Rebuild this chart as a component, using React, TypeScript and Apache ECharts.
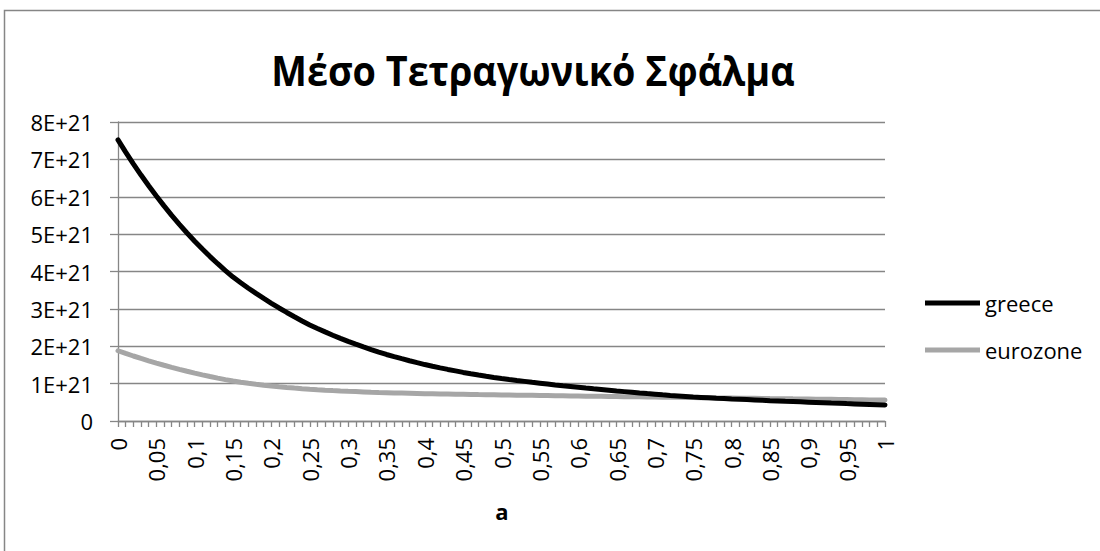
import React, { useEffect, useRef } from "react";
import * as echarts from "echarts";

// x values a = 0, 0.01, ..., 1 (exact category sequence)
const A_VALUES: number[] = Array.from({ length: 101 }, (_, i) => i / 100);

// Mean squared error, in units of 1E+21
const GREECE_E21: number[] = [
  7.52, 7.193, 6.88, 6.58, 6.294, 6.02, 5.756, 5.503, 5.262, 5.031,
  4.81, 4.6, 4.4, 4.208, 4.025, 3.85, 3.699, 3.553, 3.413, 3.279,
  3.15, 3.024, 2.904, 2.788, 2.677, 2.57, 2.475, 2.384, 2.296, 2.211,
  2.13, 2.055, 1.982, 1.912, 1.845, 1.78, 1.722, 1.667, 1.613, 1.561,
  1.51, 1.465, 1.422, 1.38, 1.34, 1.3, 1.265, 1.231, 1.198, 1.166,
  1.135, 1.109, 1.084, 1.06, 1.035, 1.012, 0.989, 0.966, 0.944, 0.923,
  0.902, 0.881, 0.861, 0.842, 0.823, 0.804, 0.786, 0.768, 0.75, 0.733,
  0.717, 0.7, 0.684, 0.669, 0.654, 0.639, 0.629, 0.619, 0.609, 0.6,
  0.59, 0.581, 0.572, 0.563, 0.554, 0.545, 0.537, 0.528, 0.52, 0.512,
  0.504, 0.496, 0.488, 0.48, 0.473, 0.465, 0.458, 0.451, 0.444, 0.437,
  0.43,
];

const EUROZONE_E21: number[] = [
  1.88, 1.808, 1.739, 1.673, 1.61, 1.55, 1.492, 1.436, 1.382, 1.33,
  1.28, 1.233, 1.189, 1.147, 1.107, 1.07, 1.038, 1.009, 0.982, 0.957,
  0.935, 0.915, 0.897, 0.88, 0.864, 0.85, 0.837, 0.825, 0.814, 0.804,
  0.795, 0.787, 0.779, 0.771, 0.764, 0.758, 0.752, 0.747, 0.742, 0.737,
  0.732, 0.728, 0.724, 0.72, 0.716, 0.713, 0.71, 0.706, 0.703, 0.7,
  0.697, 0.694, 0.691, 0.689, 0.686, 0.683, 0.68, 0.677, 0.674, 0.671,
  0.668, 0.665, 0.663, 0.66, 0.657, 0.655, 0.652, 0.649, 0.646, 0.644,
  0.641, 0.638, 0.636, 0.633, 0.63, 0.627, 0.625, 0.622, 0.619, 0.617,
  0.614, 0.611, 0.609, 0.606, 0.603, 0.6, 0.598, 0.595, 0.592, 0.59,
  0.587, 0.584, 0.582, 0.579, 0.576, 0.574, 0.571, 0.568, 0.565, 0.563,
  0.56,
];

const SERIES_NAMES = ["greece", "eurozone"];
const TITLE = "Μέσο Τετραγωνικό Σφάλμα";
const X_TITLE = "a";
const Y_MAX = 8;
const Y_STEP = 1;

const FONT = "'Open Sans', 'Noto Sans', sans-serif";
const GRID_COLOR = "#868686";

export default function App() {
  const ref = useRef<HTMLDivElement | null>(null);

  useEffect(() => {
    document.body.style.margin = "0";
    if (!ref.current) return;
    const chart = echarts.init(ref.current, null, { renderer: "svg" });
    chart.setOption({
      animation: false,
      backgroundColor: "#ffffff",
      grid: { left: 118, right: 215, top: 122, bottom: 130 },
      legend: {
        orient: "vertical",
        left: 920,
        top: 287,
        padding: 5,
        itemWidth: 55,
        itemHeight: 5,
        itemGap: 25,
        icon: "rect",
        data: SERIES_NAMES,
        textStyle: { fontFamily: FONT, fontSize: 22, color: "#000", lineHeight: 22 },
      },
      xAxis: {
        type: "category",
        boundaryGap: false,
        data: A_VALUES.map((v) => String(v).replace(".", ",")),
        axisLine: { show: true, lineStyle: { color: GRID_COLOR, width: 1.3 } },
        axisTick: { show: true, interval: 0, length: 6, lineStyle: { color: GRID_COLOR, width: 1.3 } },
        axisLabel: {
          interval: 4,
          rotate: 90,
          margin: 17,
          fontFamily: FONT,
          fontSize: 22,
          color: "#000",
        },
        splitLine: { show: false },
      },
      yAxis: {
        type: "value",
        min: 0,
        max: Y_MAX,
        interval: Y_STEP,
        axisLine: { show: true, lineStyle: { color: GRID_COLOR, width: 1.3 } },
        axisTick: { show: true, length: 8, lineStyle: { color: GRID_COLOR, width: 1.3 } },
        axisLabel: {
          margin: 25,
          fontFamily: FONT,
          fontSize: 22,
          color: "#000",
          formatter: (v: number) => (v === 0 ? "0" : `${v}E+21`),
        },
        splitLine: { show: true, lineStyle: { color: GRID_COLOR, width: 1.3 } },
      },
      series: [
        {
          name: SERIES_NAMES[0],
          type: "line",
          data: GREECE_E21,
          symbol: "none",
          smooth: false,
          lineStyle: { color: "#000000", width: 5, cap: "round" },
          itemStyle: { color: "#000000" },
          z: 3,
        },
        {
          name: SERIES_NAMES[1],
          type: "line",
          data: EUROZONE_E21,
          symbol: "none",
          smooth: false,
          lineStyle: { color: "#A6A6A6", width: 5, cap: "round" },
          itemStyle: { color: "#A6A6A6" },
          z: 2,
        },
      ],
      graphic: [
        {
          type: "rect",
          silent: true,
          shape: { x: 4.5, y: 10.5, width: 1200, height: 700 },
          style: { fill: "none", stroke: GRID_COLOR, lineWidth: 1.5 },
        },
        {
          type: "text",
          x: 533,
          y: 70,
          scaleX: 0.9,
          style: {
            text: TITLE,
            fontFamily: FONT,
            fontWeight: "bold",
            fontSize: 42,
            fill: "#000",
            textAlign: "center",
            textVerticalAlign: "middle",
          },
        },
        {
          type: "text",
          x: 502,
          y: 511,
          style: {
            text: X_TITLE,
            fontFamily: FONT,
            fontWeight: "bold",
            fontSize: 22,
            fill: "#000",
            textAlign: "center",
            textVerticalAlign: "middle",
          },
        },
      ],
    });
    return () => chart.dispose();
  }, []);

  return (
    <div
      ref={ref}
      style={{ position: "fixed", left: 0, top: 0, width: 1100, height: 551, background: "#fff" }}
    />
  );
}
